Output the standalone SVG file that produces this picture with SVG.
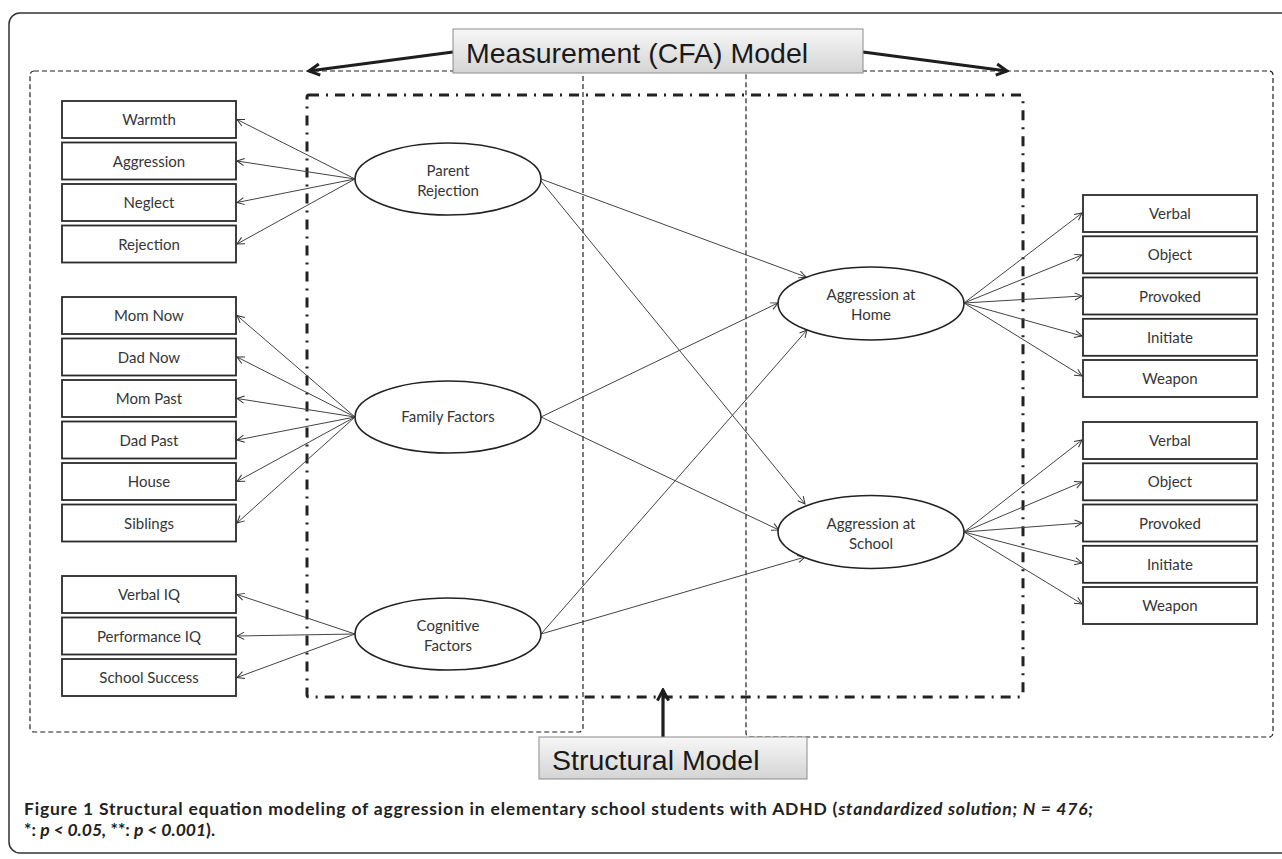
<svg xmlns="http://www.w3.org/2000/svg" width="1282" height="859" viewBox="0 0 1282 859">
<defs>
<linearGradient id="gbox" x1="0" y1="0" x2="0" y2="1">
<stop offset="0" stop-color="#f7f7f7"/>
<stop offset="1" stop-color="#d4d4d4"/>
</linearGradient>
<marker id="ah" viewBox="0 0 10 10" refX="9" refY="5" markerWidth="9" markerHeight="9" markerUnits="userSpaceOnUse" orient="auto">
<path d="M1,1 L9,5 L1,9" fill="none" stroke="#333" stroke-width="1.1"/>
</marker>
<marker id="big" viewBox="0 0 12 12" refX="10.5" refY="6" markerWidth="15" markerHeight="15" markerUnits="userSpaceOnUse" orient="auto">
<path d="M2,1.5 L10.5,6 L2,10.5" fill="none" stroke="#1e1e1e" stroke-width="2.4" stroke-linejoin="miter"/>
</marker>
</defs>
<style>
.frame{fill:none;stroke:#333;stroke-width:1.5}
.dash{fill:none;stroke:#222;stroke-width:1.2;stroke-dasharray:5 3}
.dashdot{fill:none;stroke:#222;stroke-width:3;stroke-dasharray:10 7 2 7}
.box{fill:#fff;stroke:#2a2a2a;stroke-width:1.8}
.ell{fill:#fff;stroke:#222;stroke-width:1.6}
.lbl{font-family:Lato,"Open Sans",sans-serif;font-size:15px;fill:#363636;text-anchor:middle}
.conn line{stroke:#444;stroke-width:1;marker-end:url(#ah)}
.conn line.thick{stroke:#1e1e1e;stroke-width:3.2;fill:none;marker-end:url(#big)}
.title{fill:url(#gbox);stroke:#8c8c8c;stroke-width:1}
.ttxt{font-family:"Liberation Sans",Arial,sans-serif;font-size:28.5px;fill:#1a1a1a}
.cap{font-family:Lato,"Open Sans",sans-serif;font-size:17.5px;font-weight:bold;fill:#222}
</style>
<rect width="1282" height="859" fill="#fff"/>
<rect class="frame" x="9" y="13" width="1300" height="840" rx="11"/>

<g id="regions">
<rect class="dash" x="30" y="71" width="553" height="661" rx="4"/>
<rect class="dash" x="746" y="71" width="527" height="666" rx="4"/>
<rect class="dashdot" x="307" y="95" width="716" height="602" rx="2"/>
</g>

<g id="connectors" class="conn">
<line x1="355" y1="179" x2="237" y2="119.5"/>
<line x1="355" y1="179" x2="237" y2="161"/>
<line x1="355" y1="179" x2="237" y2="202.5"/>
<line x1="355" y1="179" x2="237" y2="244"/>
<line x1="355" y1="417" x2="237" y2="315.5"/>
<line x1="355" y1="417" x2="237" y2="357"/>
<line x1="355" y1="417" x2="237" y2="398.5"/>
<line x1="355" y1="417" x2="237" y2="440"/>
<line x1="355" y1="417" x2="237" y2="481.5"/>
<line x1="355" y1="417" x2="237" y2="523"/>
<line x1="355" y1="634" x2="237" y2="594.5"/>
<line x1="355" y1="634" x2="237" y2="636"/>
<line x1="355" y1="634" x2="237" y2="677.5"/>
<line x1="541" y1="179" x2="806" y2="277"/>
<line x1="541" y1="181" x2="805" y2="504"/>
<line x1="541" y1="417" x2="778" y2="303"/>
<line x1="541" y1="417" x2="779" y2="530"/>
<line x1="541" y1="634" x2="807" y2="330"/>
<line x1="541" y1="634" x2="805" y2="557"/>
<line x1="964" y1="303" x2="1082" y2="213"/>
<line x1="964" y1="303" x2="1082" y2="255"/>
<line x1="964" y1="303" x2="1082" y2="296"/>
<line x1="964" y1="303" x2="1082" y2="336"/>
<line x1="964" y1="303" x2="1082" y2="376"/>
<line x1="964" y1="532" x2="1082" y2="440"/>
<line x1="964" y1="532" x2="1082" y2="482"/>
<line x1="964" y1="532" x2="1082" y2="523"/>
<line x1="964" y1="532" x2="1082" y2="563"/>
<line x1="964" y1="532" x2="1082" y2="604"/>
<line class="thick" x1="453" y1="52" x2="309" y2="71"/>
<line class="thick" x1="863" y1="52" x2="1007" y2="71"/>
<line class="thick" x1="663" y1="737" x2="663" y2="690"/>
</g>

<g id="n-warmth"><rect class="box" x="62" y="101" width="174" height="37"/><text class="lbl" x="149" y="125">Warmth</text></g>
<g id="n-aggression"><rect class="box" x="62" y="142.5" width="174" height="37"/><text class="lbl" x="149" y="166.5">Aggression</text></g>
<g id="n-neglect"><rect class="box" x="62" y="184" width="174" height="37"/><text class="lbl" x="149" y="208">Neglect</text></g>
<g id="n-rejection"><rect class="box" x="62" y="225.5" width="174" height="37"/><text class="lbl" x="149" y="249.5">Rejection</text></g>
<g id="n-momnow"><rect class="box" x="62" y="297" width="174" height="37"/><text class="lbl" x="149" y="321">Mom Now</text></g>
<g id="n-dadnow"><rect class="box" x="62" y="338.5" width="174" height="37"/><text class="lbl" x="149" y="362.5">Dad Now</text></g>
<g id="n-mompast"><rect class="box" x="62" y="380" width="174" height="37"/><text class="lbl" x="149" y="404">Mom Past</text></g>
<g id="n-dadpast"><rect class="box" x="62" y="421.5" width="174" height="37"/><text class="lbl" x="149" y="445.5">Dad Past</text></g>
<g id="n-house"><rect class="box" x="62" y="463" width="174" height="37"/><text class="lbl" x="149" y="487">House</text></g>
<g id="n-siblings"><rect class="box" x="62" y="504.5" width="174" height="37"/><text class="lbl" x="149" y="528.5">Siblings</text></g>
<g id="n-verbaliq"><rect class="box" x="62" y="576" width="174" height="37"/><text class="lbl" x="149" y="600">Verbal IQ</text></g>
<g id="n-perfiq"><rect class="box" x="62" y="617.5" width="174" height="37"/><text class="lbl" x="149" y="641.5">Performance IQ</text></g>
<g id="n-schoolsuccess"><rect class="box" x="62" y="659" width="174" height="37"/><text class="lbl" x="149" y="683">School Success</text></g>

<g id="n-parent"><ellipse class="ell" cx="448" cy="179" rx="93" ry="36"/><text class="lbl" x="448" y="175.5">Parent</text><text class="lbl" x="448" y="195.5">Rejection</text></g>
<g id="n-family"><ellipse class="ell" cx="448" cy="417" rx="93" ry="36"/><text class="lbl" x="448" y="422">Family Factors</text></g>
<g id="n-cognitive"><ellipse class="ell" cx="448" cy="634" rx="93" ry="36"/><text class="lbl" x="448" y="631">Cognitive</text><text class="lbl" x="448" y="651">Factors</text></g>
<g id="n-home"><ellipse class="ell" cx="871" cy="303.5" rx="93" ry="36.5"/><text class="lbl" x="871" y="300">Aggression at</text><text class="lbl" x="871" y="320">Home</text></g>
<g id="n-school"><ellipse class="ell" cx="871" cy="532" rx="93" ry="36.5"/><text class="lbl" x="871" y="528.5">Aggression at</text><text class="lbl" x="871" y="548.5">School</text></g>

<g id="n-h-verbal"><rect class="box" x="1083" y="195" width="174" height="37"/><text class="lbl" x="1170" y="219">Verbal</text></g>
<g id="n-h-object"><rect class="box" x="1083" y="236.3" width="174" height="37"/><text class="lbl" x="1170" y="260.3">Object</text></g>
<g id="n-h-provoked"><rect class="box" x="1083" y="277.5" width="174" height="37"/><text class="lbl" x="1170" y="301.5">Provoked</text></g>
<g id="n-h-initiate"><rect class="box" x="1083" y="318.8" width="174" height="37"/><text class="lbl" x="1170" y="342.8">Initiate</text></g>
<g id="n-h-weapon"><rect class="box" x="1083" y="360" width="174" height="37"/><text class="lbl" x="1170" y="384">Weapon</text></g>
<g id="n-s-verbal"><rect class="box" x="1083" y="422" width="174" height="37"/><text class="lbl" x="1170" y="446">Verbal</text></g>
<g id="n-s-object"><rect class="box" x="1083" y="463.3" width="174" height="37"/><text class="lbl" x="1170" y="487.3">Object</text></g>
<g id="n-s-provoked"><rect class="box" x="1083" y="504.5" width="174" height="37"/><text class="lbl" x="1170" y="528.5">Provoked</text></g>
<g id="n-s-initiate"><rect class="box" x="1083" y="545.8" width="174" height="37"/><text class="lbl" x="1170" y="569.8">Initiate</text></g>
<g id="n-s-weapon"><rect class="box" x="1083" y="587" width="174" height="37"/><text class="lbl" x="1170" y="611">Weapon</text></g>

<g id="n-measurement"><rect class="title" x="453" y="29" width="410" height="44"/><text class="ttxt" x="466" y="63">Measurement (CFA) Model</text></g>
<g id="n-structural"><rect class="title" x="539" y="737" width="268" height="42"/><text class="ttxt" x="552" y="770">Structural Model</text></g>

<g id="caption">
<text class="cap" x="24" y="815" textLength="1069" lengthAdjust="spacing">Figure 1 Structural equation modeling of aggression in elementary school students with ADHD (<tspan font-style="italic">standardized solution; N = 476;</tspan></text>
<text class="cap" x="24" y="836">*: <tspan font-style="italic">p &lt; 0.05,</tspan> **: <tspan font-style="italic">p &lt; 0.001</tspan>).</text>
</g>
</svg>
